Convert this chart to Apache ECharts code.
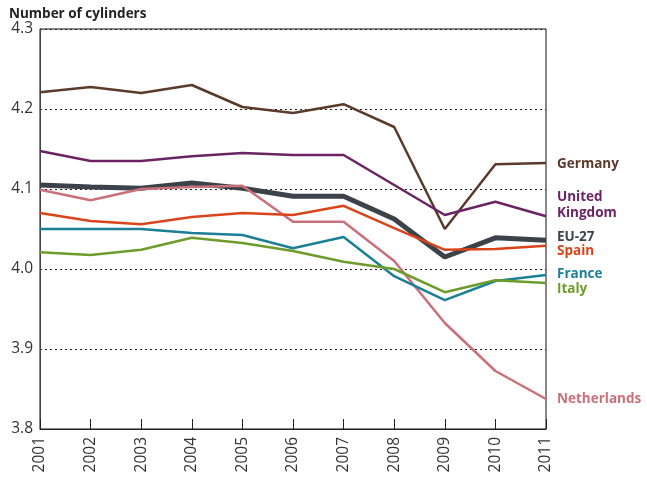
<!DOCTYPE html>
<html><head><meta charset="utf-8">
<script src="https://cdn.jsdelivr.net/npm/echarts@6/dist/echarts.min.js"></script>
<style>html,body{margin:0;padding:0;background:#fff}#c{width:647px;height:478px}</style>
</head><body><div id="c"></div>
<script>
const years = ['2001','2002','2003','2004','2005','2006','2007','2008','2009','2010','2011'];
const eu27 = [4.105,4.1025,4.101,4.1075,4.101,4.091,4.091,4.0625,4.015,4.039,4.036];
const germany = [4.221,4.2275,4.220,4.230,4.2025,4.195,4.206,4.1775,4.050,4.131,4.1325];
const unitedKingdom = [4.1475,4.135,4.135,4.141,4.145,4.1425,4.1425,4.105,4.0675,4.084,4.066];
const netherlands = [4.099,4.086,4.100,4.1025,4.104,4.059,4.059,4.010,3.9325,3.8725,3.8375];
const spain = [4.070,4.060,4.056,4.065,4.070,4.0675,4.079,4.051,4.024,4.025,4.029];
const france = [4.050,4.050,4.050,4.045,4.0425,4.026,4.040,3.991,3.961,3.985,3.9925];
const italy = [4.021,4.0175,4.024,4.039,4.0325,4.0225,4.009,4.000,3.971,3.986,3.9825];

const F = '"Open Sans"';
function s(name, data, color, width, label, dy) {
  return {
    name, type: 'line', data, symbol: 'none',
    lineStyle: {color, width}, itemStyle: {color},
    emphasis: {disabled: true},
    endLabel: {show: true, formatter: label, color, fontFamily: F, fontWeight: 'bold',
      fontSize: 13.5, lineHeight: 16, offset: [3, dy], align: 'left'}
  };
}
const chart = echarts.init(document.getElementById('c'), null, {renderer: 'canvas'});
chart.setOption({
  animation: false,
  title: {text: 'Number of cylinders', left: 4, top: 2,
    textStyle: {fontFamily: F, fontWeight: 'bold', fontSize: 13.5, color: '#222'}},
  grid: {left: 40, right: 101, top: 29, bottom: 49, show: true, borderColor: '#111', borderWidth: 1},
  xAxis: {type: 'category', data: years, boundaryGap: false,
    axisLine: {lineStyle: {color: '#222'}},
    axisTick: {inside: true, length: 10, lineStyle: {color: '#222'}},
    axisLabel: {rotate: 90, margin: 8, color: '#333', fontFamily: F, fontSize: 15.5}},
  yAxis: {type: 'value', min: 3.8, max: 4.3, interval: 0.1,
    axisLine: {show: true, lineStyle: {color: '#444'}},
    axisTick: {show: false},
    axisLabel: {color: '#333', fontFamily: F, fontSize: 15.5, margin: 7, formatter: v => v.toFixed(1)},
    splitLine: {lineStyle: {type: [2, 3], color: '#222', width: 1}}},
  series: [
    s('EU-27', eu27, '#3b424a', 5, 'EU-27', -3),
    s('Germany', germany, '#5b3a2b', 2.5, 'Germany', 1),
    s('United Kingdom', unitedKingdom, '#6b2463', 2.5, 'United\nKingdom', -11),
    s('Netherlands', netherlands, '#c9707a', 2.5, 'Netherlands', 0),
    s('Spain', spain, '#d9441b', 2.5, 'Spain', 5),
    s('France', france, '#1b7f95', 2.5, 'France', -1),
    s('Italy', italy, '#6d9c2c', 2.5, 'Italy', 6)
  ]
});
</script></body></html>
